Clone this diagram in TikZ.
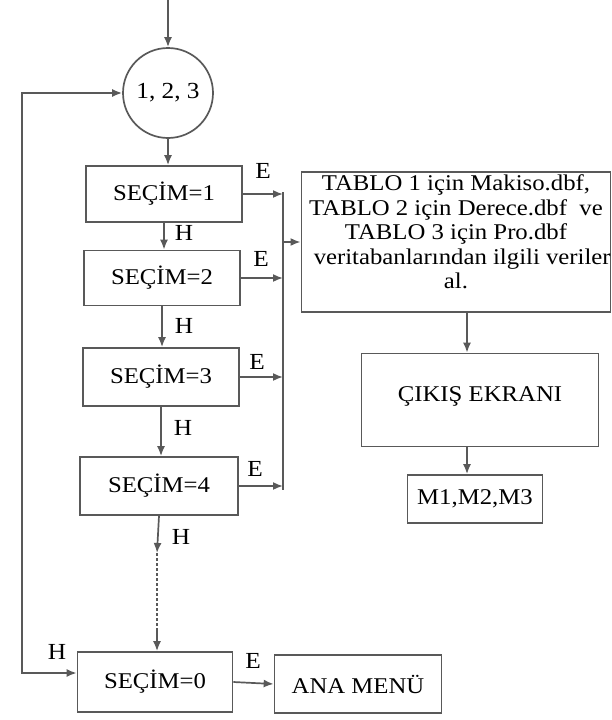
\documentclass[tikz,border=0pt]{standalone}
\usepackage{fontspec}
\setmainfont{Liberation Serif}[FakeStretch=1.1]
\usetikzlibrary{arrows.meta,calc}
\begin{document}
\begin{tikzpicture}[x=1pt,y=-1pt,
  ln/.style={draw=black!65,line width=1.7pt},
  arr/.style={ln,-{Latex[length=10pt,width=8pt]}},
  box/.style={draw=black!65,line width=1.7pt,rectangle,inner sep=2pt,align=center,font=\fontsize{22.5}{24.5}\selectfont},
  lbl/.style={font=\fontsize{23}{24}\selectfont,inner sep=0pt}]
\useasboundingbox (0,0) rectangle (611,720);
% nodes
\node[draw=black!65,line width=1.7pt,circle,minimum size=90pt,inner sep=0pt,font=\fontsize{23}{24}\selectfont] (c) at (168,93) {1, 2, 3};
\node[box,minimum width=156pt,minimum height=56pt] (s1) at (164,194) {SEÇİM=1};
\node[box,minimum width=156pt,minimum height=55pt] (s2) at (162,278) {SEÇİM=2};
\node[box,minimum width=156pt,minimum height=58pt] (s3) at (161,377) {SEÇİM=3};
\node[box,minimum width=158pt,minimum height=58pt] (s4) at (159,486) {SEÇİM=4};
\node[box,minimum width=155pt,minimum height=60pt] (s0) at (155,682) {SEÇİM=0};
\node[box,minimum width=167pt,minimum height=58pt] (am) at (358,684) {ANA MENÜ};
\node[box,minimum width=307pt,minimum height=140pt,inner sep=0pt,text depth=20pt] (big) at (456,242) {TABLO 1 için Makiso.dbf,\\TABLO 2 için Derece.dbf\ \ ve\\TABLO 3 için Pro.dbf\\\ \ veritabanlarından ilgili veriler\\al.};
\node[box,minimum width=237pt,minimum height=93pt,text depth=12pt] (ck) at (480,400) {ÇIKIŞ EKRANI};
\node[box,minimum width=135pt,minimum height=48pt] (m) at (475,499) {M1,M2,M3};
% coordinates
\coordinate (top) at (168,0);
\coordinate (bt) at (283,192);
\coordinate (bb) at (283,490);
\coordinate (bm) at (283,242);
\coordinate (lt) at (22,93);
\coordinate (lb) at (22,673);
\coordinate (d1) at (157,553);
\coordinate (d2) at (157,630);
\coordinate (x1) at (467,0);
% connectors
\draw[arr] (top) -- (c.north);
\draw[arr] (c.south) -- (c.south |- s1.north);
\draw[arr] (s1.south) -- (s1.south |- s2.north);
\draw[arr] (s2.south) -- (s2.south |- s3.north);
\draw[arr] (s3.south) -- (s3.south |- s4.north);
\draw[arr] (s4.south) -- (d1);
\draw[ln,dash pattern=on 3pt off 2pt,line width=2pt] (d1) -- (d2);
\draw[arr] (d2) -- (d2 |- s0.north);
% E arrows to bus
\draw[arr] (s1.east) -- (s1.east -| bt);
\draw[arr] (s2.east) -- (s2.east -| bt);
\draw[arr] (s3.east) -- (s3.east -| bt);
\draw[arr] (s4.east) -- (s4.east -| bt);
\draw[ln] (bt) -- (bb);
\draw[arr] (bm) -- (big.west);
\draw[arr] (x1 |- big.south) -- (x1 |- ck.north);
\draw[arr] (ck.south -| x1) -- (m.north -| x1);
\draw[arr] (s0.east) -- (am.west);
% loop
\draw[ln,{Latex[length=10pt,width=8pt]}-{Latex[length=10pt,width=8pt]}] (c.west) -- (lt) -- (lb) -- (lb -| s0.west);
% labels
\node[lbl] (h1) at (184,233) {H};
\node[lbl] (h2) at (184,326) {H};
\node[lbl] (h3) at (183,428) {H};
\node[lbl] (h4) at (181,537) {H};
\node[lbl] (h0) at (57,652) {H};
\node[lbl] (e1) at (263,171) {E};
\node[lbl] (e2) at (261,259) {E};
\node[lbl] (e3) at (257,362) {E};
\node[lbl] (e4) at (255,469) {E};
\node[lbl] (e0) at (253,661) {E};
\end{tikzpicture}
\end{document}
